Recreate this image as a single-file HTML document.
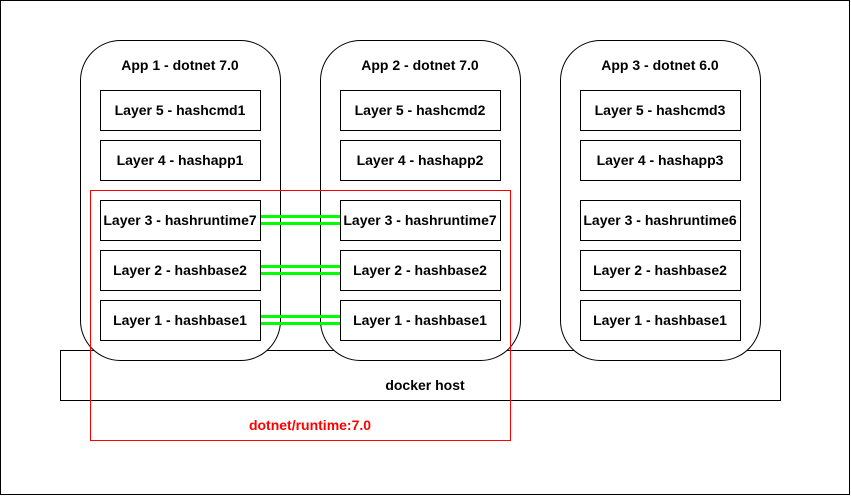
<!DOCTYPE html>
<html><head><meta charset="utf-8"><style>
html,body{margin:0;padding:0;background:#fff;}
svg{display:block;}
text{font-family:"Liberation Sans",Arial,sans-serif;font-size:14px;font-weight:bold;text-anchor:middle;dominant-baseline:central;}
</style></head><body>
<svg width="851" height="496" viewBox="0 0 851 496" xmlns="http://www.w3.org/2000/svg">
<rect x="0.5" y="0.5" width="849" height="494" fill="#fff" stroke="#000" stroke-width="1"/>
<rect x="60.5" y="350.5" width="720" height="50" fill="#fff" stroke="#000"/>
<text x="425" y="385">docker host</text>
<g fill="#fff" stroke="#000">
<rect x="80.5" y="40.5" width="200" height="320" rx="40"/>
<rect x="320.5" y="40.5" width="200" height="320" rx="40"/>
<rect x="560.5" y="40.5" width="200" height="320" rx="40"/>
</g>
<text x="180" y="65">App 1 - dotnet 7.0</text>
<text x="420" y="65">App 2 - dotnet 7.0</text>
<text x="660" y="65">App 3 - dotnet 6.0</text>
<g fill="#fff" stroke="#000">
<rect x="100.5" y="90.5" width="160" height="40"/><rect x="100.5" y="140.5" width="160" height="40"/><rect x="100.5" y="200.5" width="160" height="40"/><rect x="100.5" y="250.5" width="160" height="40"/><rect x="100.5" y="300.5" width="160" height="40"/>
<rect x="340.5" y="90.5" width="160" height="40"/><rect x="340.5" y="140.5" width="160" height="40"/><rect x="340.5" y="200.5" width="160" height="40"/><rect x="340.5" y="250.5" width="160" height="40"/><rect x="340.5" y="300.5" width="160" height="40"/>
<rect x="580.5" y="90.5" width="160" height="40"/><rect x="580.5" y="140.5" width="160" height="40"/><rect x="580.5" y="200.5" width="160" height="40"/><rect x="580.5" y="250.5" width="160" height="40"/><rect x="580.5" y="300.5" width="160" height="40"/>
</g>
<text x="180" y="110">Layer 5 - hashcmd1</text>
<text x="180" y="160">Layer 4 - hashapp1</text>
<text x="180" y="220">Layer 3 - hashruntime7</text>
<text x="180" y="270">Layer 2 - hashbase2</text>
<text x="180" y="320">Layer 1 - hashbase1</text>
<text x="420" y="110">Layer 5 - hashcmd2</text>
<text x="420" y="160">Layer 4 - hashapp2</text>
<text x="420" y="220">Layer 3 - hashruntime7</text>
<text x="420" y="270">Layer 2 - hashbase2</text>
<text x="420" y="320">Layer 1 - hashbase1</text>
<text x="660" y="110">Layer 5 - hashcmd3</text>
<text x="660" y="160">Layer 4 - hashapp3</text>
<text x="660" y="220">Layer 3 - hashruntime6</text>
<text x="660" y="270">Layer 2 - hashbase2</text>
<text x="660" y="320">Layer 1 - hashbase1</text>
<g stroke="#00ff00" stroke-width="3">
<line x1="261" y1="216.5" x2="340" y2="216.5"/><line x1="261" y1="223.5" x2="340" y2="223.5"/>
<line x1="261" y1="266.5" x2="340" y2="266.5"/><line x1="261" y1="273.5" x2="340" y2="273.5"/>
<line x1="261" y1="316.5" x2="340" y2="316.5"/><line x1="261" y1="323.5" x2="340" y2="323.5"/>
</g>
<rect x="90.5" y="190.5" width="420" height="250" fill="none" stroke="#ff0000"/>
<text x="310" y="425" fill="#ff0000">dotnet/runtime:7.0</text>
</svg>
</body></html>
